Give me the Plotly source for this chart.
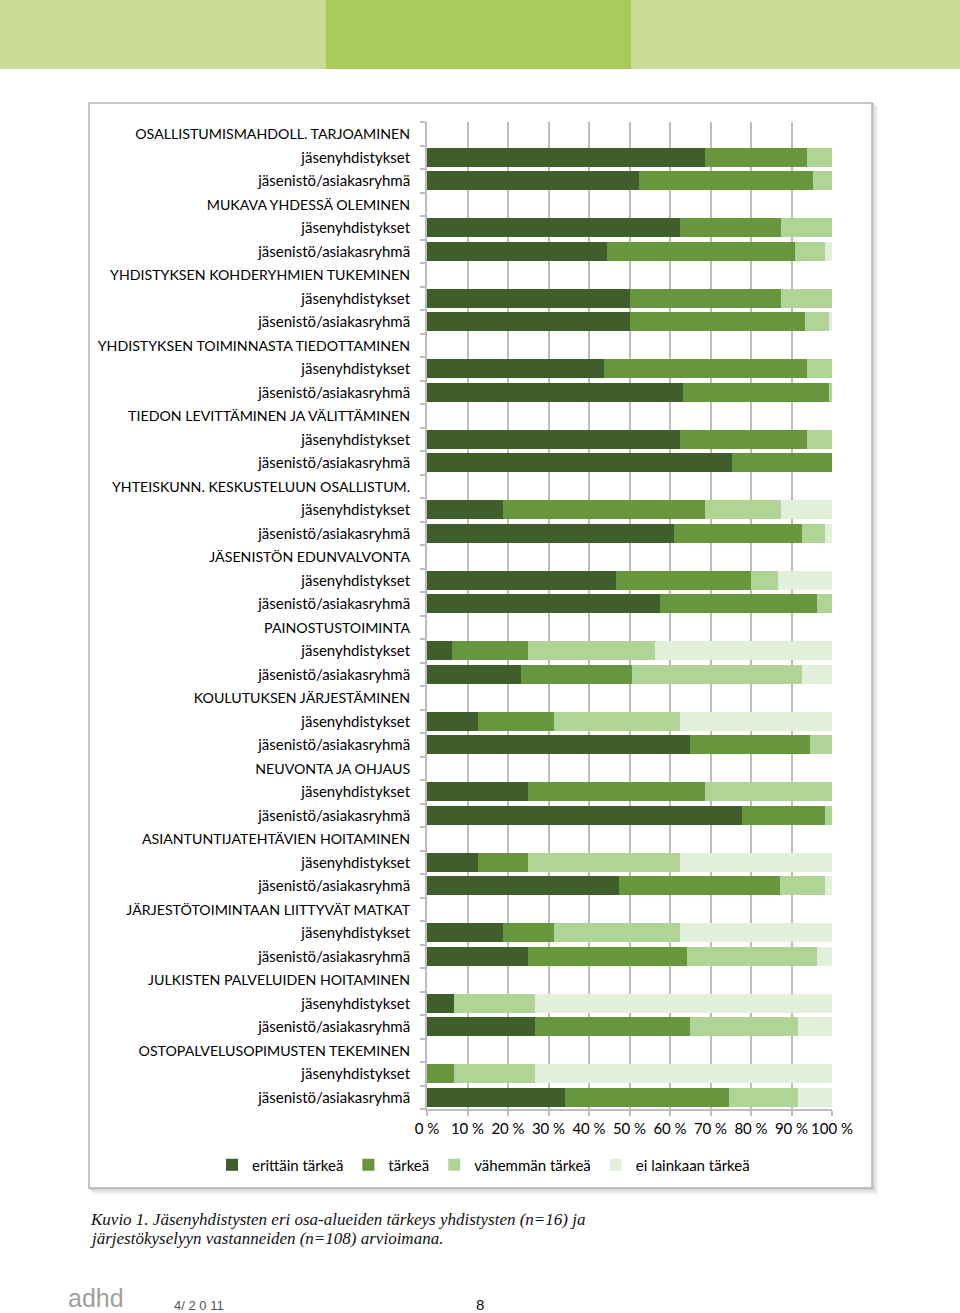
import plotly.graph_objects as go

# ---------------- data ----------------
groups = [
    "OSALLISTUMISMAHDOLL. TARJOAMINEN",
    "MUKAVA YHDESSÄ OLEMINEN",
    "YHDISTYKSEN KOHDERYHMIEN TUKEMINEN",
    "YHDISTYKSEN TOIMINNASTA TIEDOTTAMINEN",
    "TIEDON LEVITTÄMINEN JA VÄLITTÄMINEN",
    "YHTEISKUNN. KESKUSTELUUN OSALLISTUM.",
    "JÄSENISTÖN EDUNVALVONTA",
    "PAINOSTUSTOIMINTA",
    "KOULUTUKSEN JÄRJESTÄMINEN",
    "NEUVONTA JA OHJAUS",
    "ASIANTUNTIJATEHTÄVIEN HOITAMINEN",
    "JÄRJESTÖTOIMINTAAN LIITTYVÄT MATKAT",
    "JULKISTEN PALVELUIDEN HOITAMINEN",
    "OSTOPALVELUSOPIMUSTEN TEKEMINEN",
]
sub_labels = ["jäsenyhdistykset", "jäsenistö/asiakasryhmä"]
series_names = ["erittäin tärkeä", "tärkeä", "vähemmän tärkeä", "ei lainkaan tärkeä"]

# jäsenyhdistykset (per group)
yhd_erittain = [68.75, 62.5, 50.0, 43.75, 62.5, 18.75, 46.7, 6.25, 12.5, 25.0, 12.5, 18.75, 6.7, 0.0]
yhd_tarkea   = [25.0, 25.0, 37.5, 50.0, 31.25, 50.0, 33.3, 18.75, 18.75, 43.75, 12.5, 12.5, 0.0, 6.7]
yhd_vahemman = [6.25, 12.5, 12.5, 6.25, 6.25, 18.75, 6.7, 31.25, 31.25, 31.25, 37.5, 31.25, 20.0, 20.0]
yhd_ei       = [0.0, 0.0, 0.0, 0.0, 0.0, 12.5, 13.3, 43.75, 37.5, 0.0, 37.5, 37.5, 73.3, 73.3]

# jäsenistö/asiakasryhmä (per group)
jas_erittain = [52.4, 44.5, 50.0, 63.2, 75.2, 61.1, 57.5, 23.1, 65.0, 77.8, 47.3, 25.0, 26.7, 34.0]
jas_tarkea   = [43.0, 46.3, 43.4, 36.1, 24.8, 31.5, 38.9, 27.4, 29.5, 20.4, 39.8, 39.2, 38.3, 40.6]
jas_vahemman = [4.6, 7.4, 5.9, 0.7, 0.0, 5.6, 3.6, 42.0, 5.5, 1.8, 11.1, 32.2, 26.5, 16.9]
jas_ei       = [0.0, 1.8, 0.7, 0.0, 0.0, 1.8, 0.0, 7.5, 0.0, 0.0, 1.8, 3.6, 8.5, 8.5]

colors = ["#405e2c", "#67963d", "#b0d496", "#e2efda"]

# ---------------- build rows ----------------
row_labels = []
yhd = [yhd_erittain, yhd_tarkea, yhd_vahemman, yhd_ei]
jas = [jas_erittain, jas_tarkea, jas_vahemman, jas_ei]
series_vals = [[] for _ in range(4)]
for gi, g in enumerate(groups):
    row_labels.append('<span style="font-size:14.2px">' + g + '</span>')
    for s in range(4):
        series_vals[s].append(None)
    row_labels.append(sub_labels[0])
    for s in range(4):
        series_vals[s].append(yhd[s][gi])
    row_labels.append(sub_labels[1])
    for s in range(4):
        series_vals[s].append(jas[s][gi])
ypos = list(range(len(row_labels)))

# ---------------- layout geometry ----------------
W, H = 960, 1313
PL, PR, PT, PB = 427, 832, 122, 1109  # plot area in pixels


def px(x):
    return (x - PL) / (PR - PL)


def py(y):
    return (PB - y) / (PB - PT)


fig = go.Figure()
for s in range(4):
    fig.add_trace(go.Bar(
        y=ypos, x=series_vals[s], orientation="h", name=series_names[s],
        marker=dict(color=colors[s], line=dict(width=0)),
    ))

shapes = []
# top band
for x0, x1, c in [(0, 326, "#cbdc98"), (326, 631, "#a9ca59"), (631, 960, "#cbdc98")]:
    shapes.append(dict(type="rect", xref="paper", yref="paper", x0=px(x0), x1=px(x1),
                       y0=py(69), y1=py(0), fillcolor=c, line=dict(width=0), layer="below"))
# chart box shadow
for off, c in [(6, "#f0f0f0"), (4, "#e3e3e3"), (2, "#d2d2d2")]:
    shapes.append(dict(type="rect", xref="paper", yref="paper", x0=px(89 + off - 2), x1=px(872 + off),
                       y0=py(1188 + off), y1=py(103 + off - 2), fillcolor=c, line=dict(width=0), layer="below"))
shapes.append(dict(type="rect", xref="paper", yref="paper", x0=px(89), x1=px(872),
                   y0=py(1188), y1=py(103), fillcolor="white",
                   line=dict(width=1.5, color="#b4b4b4"), layer="below"))

cap_font = dict(family="Liberation Serif", size=17, color="#111111")
annotations = [
    dict(text="<i>Kuvio 1. Jäsenyhdistysten eri osa-alueiden tärkeys yhdistysten (n=16) ja</i>",
         xref="paper", yref="paper", x=px(88), y=py(1219), xanchor="left", yanchor="middle",
         showarrow=False, font=cap_font),
    dict(text="<i>järjestökyselyyn vastanneiden (n=108) arvioimana.</i>",
         xref="paper", yref="paper", x=px(88), y=py(1238), xanchor="left", yanchor="middle",
         showarrow=False, font=cap_font),
    dict(text="adhd", xref="paper", yref="paper", x=px(66), y=py(1298), xanchor="left",
         yanchor="middle", showarrow=False,
         font=dict(family="Liberation Sans", size=25, color="#a0a0a0")),
    dict(text="4/ 2 0 11", xref="paper", yref="paper", x=px(172), y=py(1305), xanchor="left",
         yanchor="middle", showarrow=False,
         font=dict(family="Liberation Sans", size=13, color="#555555")),
    dict(text="8", xref="paper", yref="paper", x=px(480), y=py(1304), xanchor="center",
         yanchor="middle", showarrow=False,
         font=dict(family="Liberation Sans", size=15, color="#111111")),
]

fig.update_layout(
    width=W, height=H,
    margin=dict(l=PL, r=W - PR, t=PT, b=H - PB, pad=0),
    barmode="stack", bargap=0.2,
    paper_bgcolor="white", plot_bgcolor="rgba(0,0,0,0)",
    font=dict(family="Lato", size=15, color="#000000"),
    shapes=shapes, annotations=annotations,
    showlegend=True,
    legend=dict(orientation="h", x=px(212), xanchor="left", y=py(1165), yanchor="middle",
                font=dict(family="Lato", size=15, color="#000000"), traceorder="normal",
                bgcolor="rgba(0,0,0,0)", itemwidth=30),
)
fig.update_xaxes(
    range=[0, 100], tickvals=list(range(0, 101, 10)),
    ticktext=[f"{v} %" for v in range(0, 101, 10)],
    showgrid=True, gridcolor="#bdbdbd", gridwidth=1.8,
    showline=True, linecolor="#bdbdbd", linewidth=1.8,
    ticks="outside", ticklen=5, tickcolor="#bdbdbd", tickwidth=1.5,
    zeroline=False, tickfont=dict(family="Lato", size=15, color="#000000"),
    fixedrange=True,
)
fig.update_yaxes(
    range=[len(row_labels) - 0.5, -0.5], tickvals=ypos, ticktext=row_labels,
    showgrid=False, showline=True, linecolor="#bdbdbd", linewidth=1.8,
    ticks="", ticklabelstandoff=12,
    minor=dict(tickvals=[i - 0.5 for i in range(len(row_labels) + 1)], ticks="outside",
               ticklen=5, tickcolor="#bdbdbd", tickwidth=1.5, showgrid=False),
    zeroline=False, tickfont=dict(family="Lato", size=15, color="#000000"),
    fixedrange=True,
)

fig.write_html(
    "out.html",
    config={"displayModeBar": False},
    post_script="document.body.style.margin='0';document.body.style.overflow='hidden';",
)
